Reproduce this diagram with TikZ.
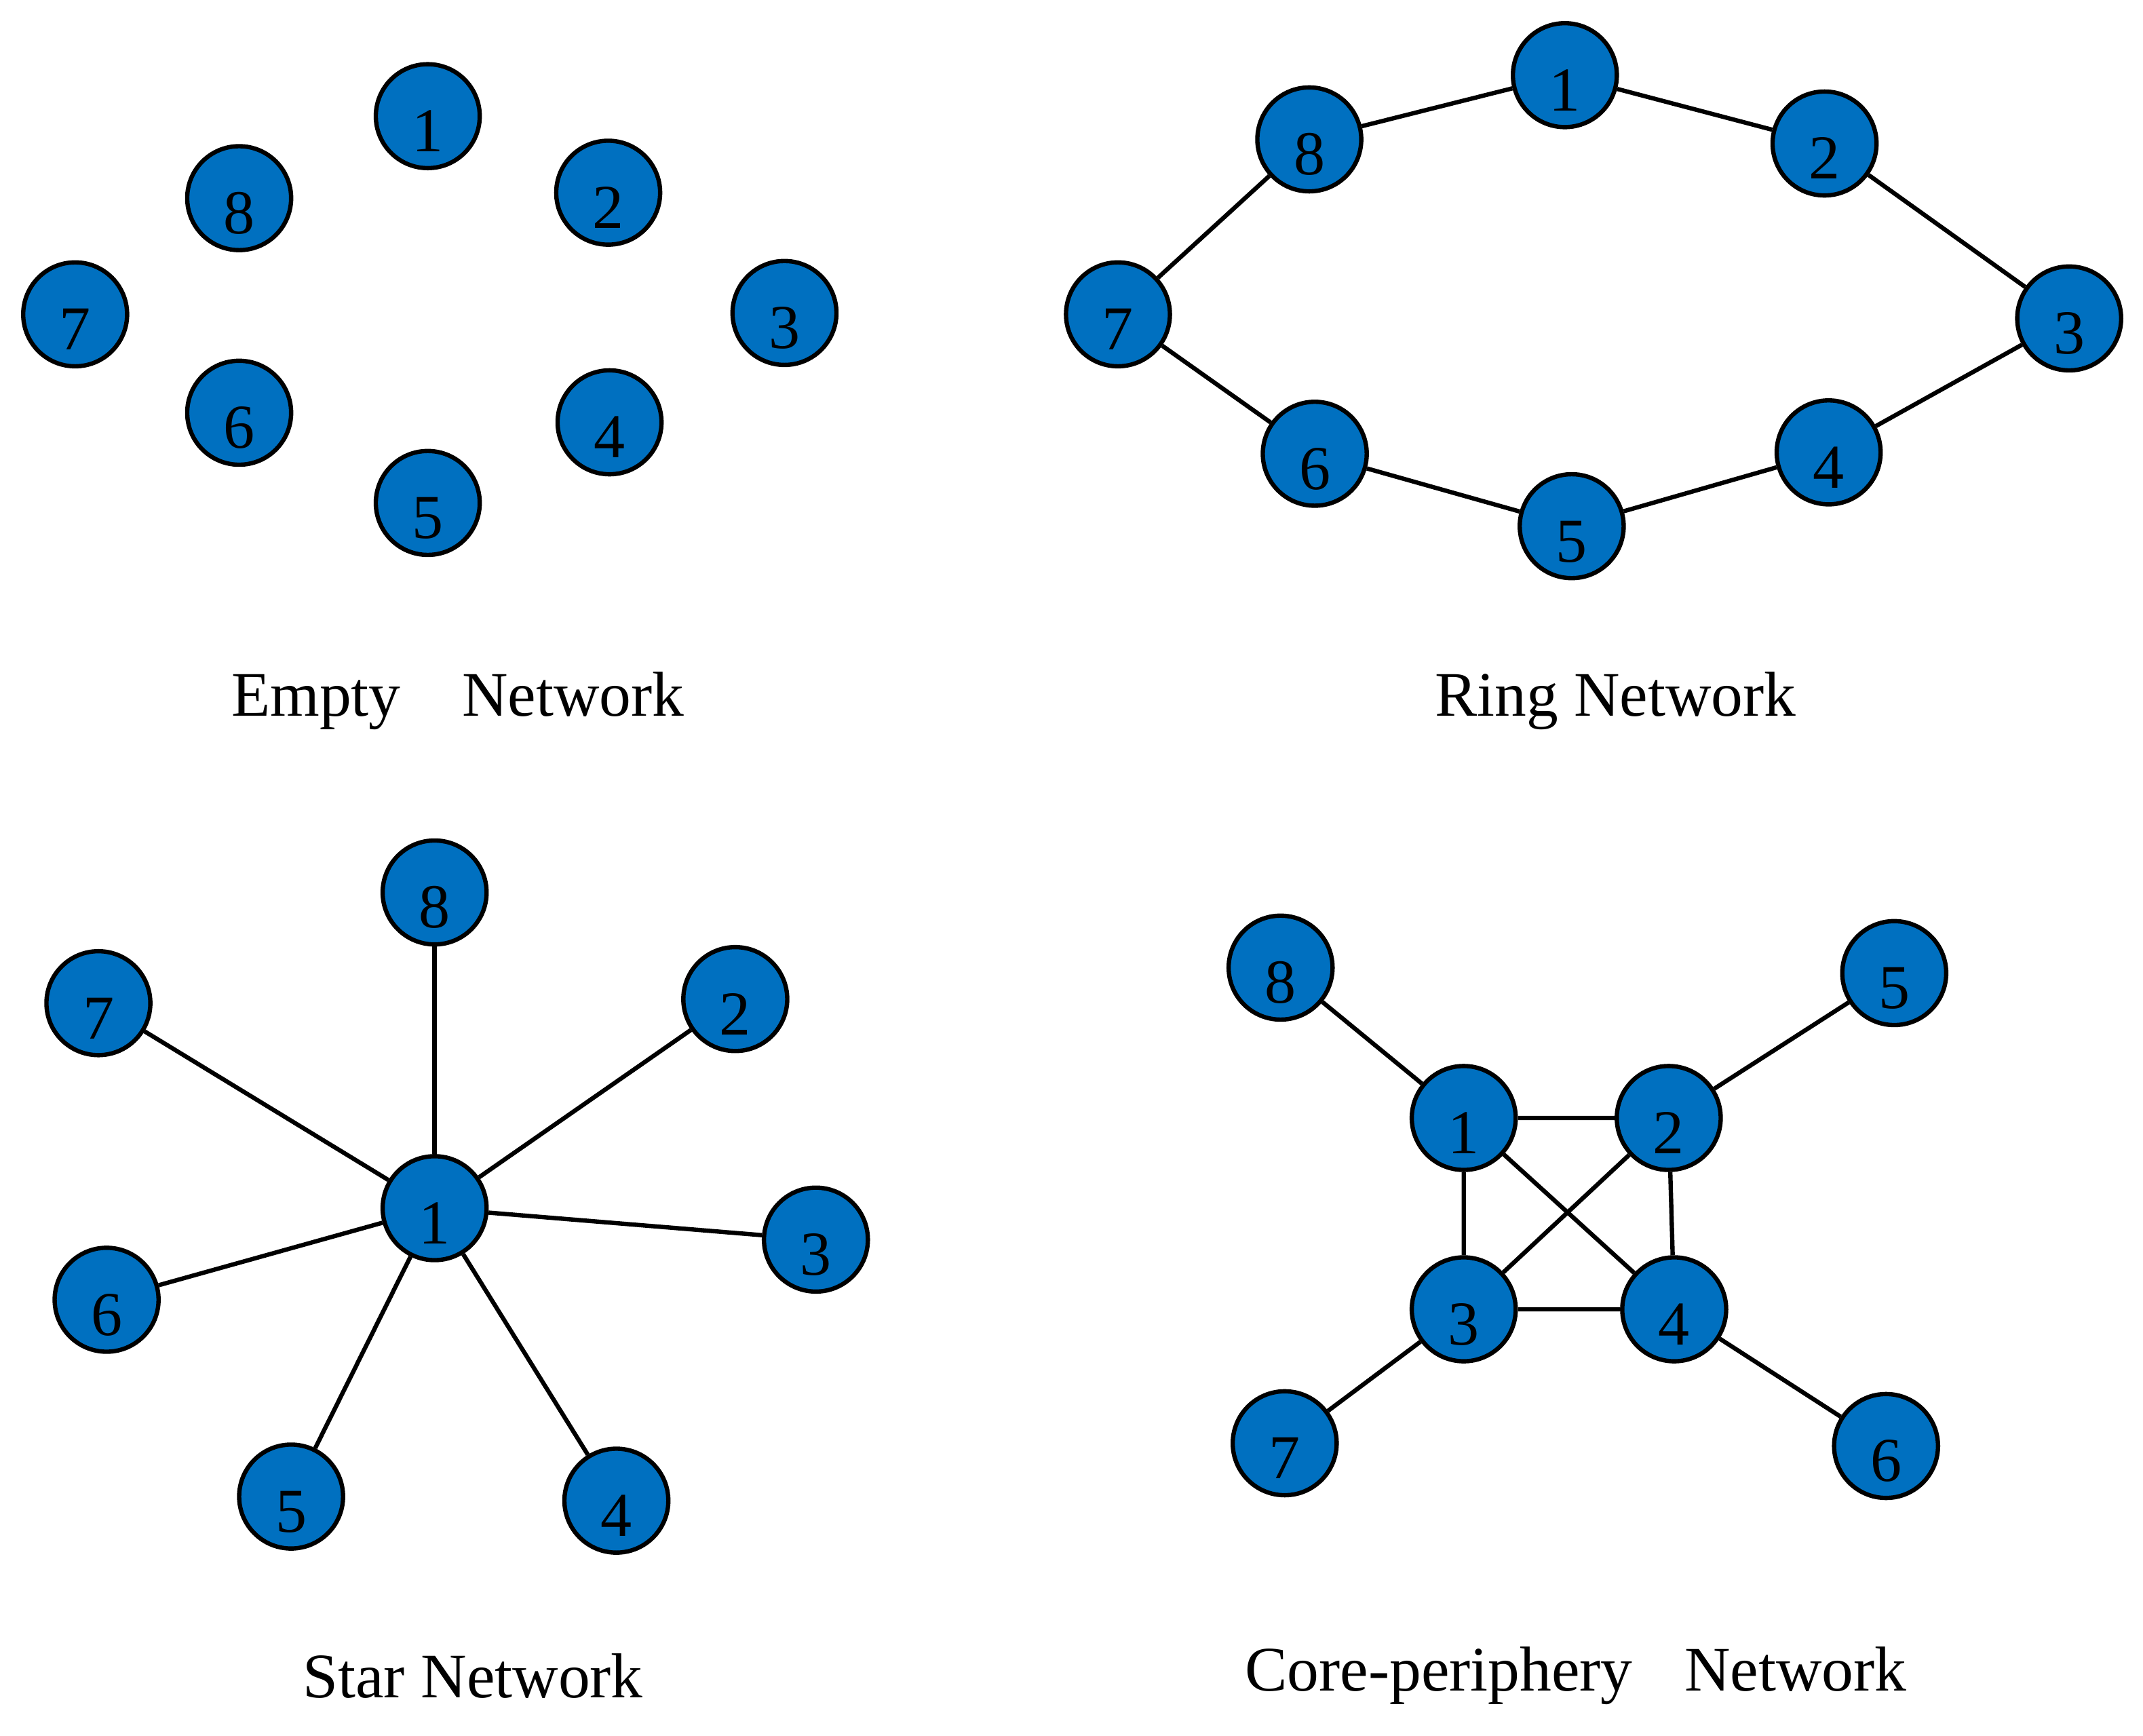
\documentclass[tikz,border=0pt]{standalone}
\usepackage{fontspec}
\setmainfont{Liberation Serif}
\definecolor{nodeblue}{HTML}{0070C0}
\begin{document}
\begin{tikzpicture}[x=0.01cm,y=-0.01cm,
  vtx/.style={circle,draw=black,fill=nodeblue,line width=0.9pt,minimum size=0.76cm,inner sep=0pt,
    text height=0.52cm,text depth=0pt,font=\fontsize{13}{15}\selectfont},
  edge/.style={line width=0.9pt,black},
  captext/.style={anchor=base,font=\fontsize{13.2}{15}\selectfont}]
\useasboundingbox (0,0) rectangle (1568,1270);
% Empty network
\node[vtx] (e1) at (313,85) {1};
\node[vtx] (e2) at (445,141) {2};
\node[vtx] (e3) at (574,229) {3};
\node[vtx] (e4) at (446,309) {4};
\node[vtx] (e5) at (313,368) {5};
\node[vtx] (e6) at (175,302) {6};
\node[vtx] (e7) at (55,230) {7};
\node[vtx] (e8) at (175,145) {8};
\node[captext] (te) at (335,524) {Empty\hspace{0.45cm}Network};
% Ring network
\node[vtx] (r1) at (1145,55) {1};
\node[vtx] (r2) at (1335,105) {2};
\node[vtx] (r3) at (1514,233) {3};
\node[vtx] (r4) at (1338,331) {4};
\node[vtx] (r5) at (1150,385) {5};
\node[vtx] (r6) at (962,332) {6};
\node[vtx] (r7) at (818,230) {7};
\node[vtx] (r8) at (958,102) {8};
\draw[edge] (r1)--(r2) (r2)--(r3) (r3)--(r4) (r4)--(r5) (r5)--(r6) (r6)--(r7) (r7)--(r8) (r8)--(r1);
\node[captext] (tr) at (1182,524) {Ring Network};
% Star network
\node[vtx] (s1) at (318,884) {1};
\node[vtx] (s2) at (538,731) {2};
\node[vtx] (s3) at (597,907) {3};
\node[vtx] (s4) at (451,1098) {4};
\node[vtx] (s5) at (213,1095) {5};
\node[vtx] (s6) at (78,951) {6};
\node[vtx] (s7) at (72,734) {7};
\node[vtx] (s8) at (318,653) {8};
\foreach \i in {2,...,8} {\draw[edge] (s1)--(s\i);}
\node[captext] (ts) at (346,1242) {Star Network};
% Core-periphery network
\node[vtx] (c1) at (1071,818) {1};
\node[vtx] (c2) at (1221,818) {2};
\node[vtx] (c3) at (1071,958) {3};
\node[vtx] (c4) at (1225,958) {4};
\node[vtx] (c5) at (1386,712) {5};
\node[vtx] (c6) at (1380,1058) {6};
\node[vtx] (c7) at (940,1056) {7};
\node[vtx] (c8) at (937,708) {8};
\draw[edge] (c1)--(c2) (c1)--(c3) (c1)--(c4) (c2)--(c3) (c2)--(c4) (c3)--(c4)
  (c1)--(c8) (c2)--(c5) (c3)--(c7) (c4)--(c6);
\node[captext] (tc) at (1153,1237) {Core-periphery\hspace{0.38cm}Network};
\end{tikzpicture}
\end{document}
